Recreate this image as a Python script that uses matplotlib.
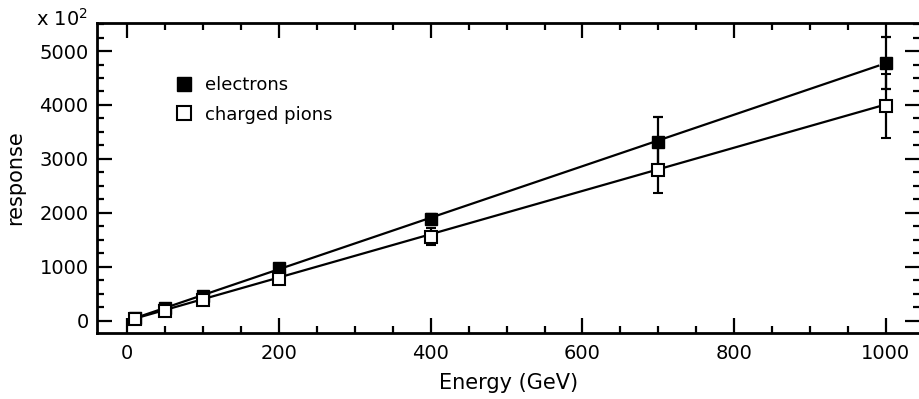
import matplotlib
matplotlib.use("Agg")
import matplotlib.pyplot as plt
from matplotlib.lines import Line2D
from matplotlib.ticker import MultipleLocator

# ---- data ----
energy = [10, 50, 100, 200, 400, 700, 1000]
electrons = [48, 235, 465, 975, 1880, 3320, 4780]
electrons_err = [0, 0, 0, 0, 100, 450, 480]
pions = [40, 180, 385, 780, 1560, 2790, 3980]
pions_err = [0, 0, 0, 0, 160, 430, 600]
fit_x = [10, 990]
electrons_fit = [48, 4727]
pions_fit = [40, 3970]
legend_labels = ["electrons", "charged pions"]

plt.rcParams['font.family'] = ['DejaVu Sans']

fig = plt.figure(figsize=(9.19, 3.99), dpi=100)
ax = fig.add_axes([97/919, 1-333/399, 823/919, 310/399])

ax.plot(fit_x, electrons_fit, color='black', lw=1.6, zorder=2)
ax.plot(fit_x, pions_fit, color='black', lw=1.6, zorder=2)

ax.errorbar(energy, electrons, yerr=electrons_err, fmt='s', color='black',
            mfc='black', mec='black', ms=8, ecolor='black', elinewidth=1.6,
            capsize=3.6, capthick=1.6, zorder=3)
ax.errorbar(energy, pions, yerr=pions_err, fmt='s', color='black',
            mfc='white', mec='black', mew=1.5, ms=8, ecolor='black',
            elinewidth=1.6, capsize=3.6, capthick=1.6, zorder=3)

ax.set_xlim(-40, 1045)
ax.set_ylim(-228, 5520)
ax.xaxis.set_major_locator(MultipleLocator(200))
ax.xaxis.set_minor_locator(MultipleLocator(50))
ax.yaxis.set_major_locator(MultipleLocator(1000))
ax.yaxis.set_minor_locator(MultipleLocator(250))

ax.tick_params(which='both', direction='in', top=True, right=True,
               width=1.6, labelsize=14)
ax.tick_params(which='major', length=10.5)
ax.tick_params(which='minor', length=5.2)
ax.tick_params(axis='x', which='major', pad=8)
ax.tick_params(axis='y', which='major', pad=6)
for s in ax.spines.values():
    s.set_linewidth(2)

ax.set_xlabel("Energy (GeV)", fontsize=15, labelpad=7)
ax.set_ylabel("response", fontsize=15, labelpad=10)

fig.text(36/919, 1-26/399, r"x 10$^{2}$", fontsize=14, ha='left', va='baseline')

handles = [Line2D([], [], marker='s', ls='none', mfc='black', mec='black', ms=10),
           Line2D([], [], marker='s', ls='none', mfc='white', mec='black', mew=1.5, ms=10)]
leg = ax.legend(handles, legend_labels, loc='upper left',
                bbox_to_anchor=(177/919, 1-76/399), bbox_transform=fig.transFigure,
                frameon=False, fontsize=13, handlelength=0.8, handletextpad=0.75,
                labelspacing=0.65, borderpad=0, borderaxespad=0)

fig.savefig("out.png", dpi=100)
